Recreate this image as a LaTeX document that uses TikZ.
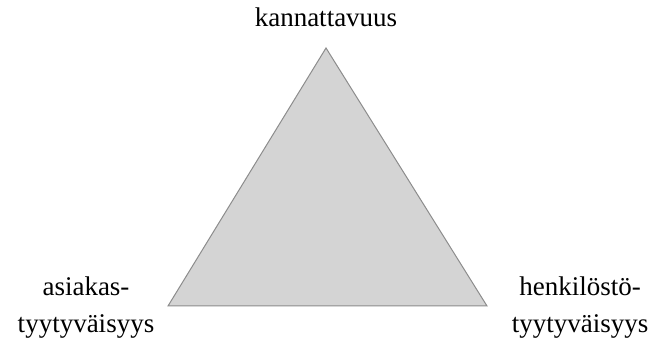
\documentclass[tikz,border=0pt]{standalone}
\usepackage{fontspec}
\setmainfont{Liberation Serif}
\begin{document}
\begin{tikzpicture}[x=1pt,y=-1pt,
  lbl/.style={align=center,inner sep=0pt,font=\fontsize{27}{37}\selectfont},
  tri/.style={fill=black!17,draw=black!45,line width=1pt,line join=miter}]
\useasboundingbox (0,0) rectangle (661,344);
\coordinate (apex) at (326,48);
\coordinate (bl) at (168,306);
\coordinate (br) at (487,306);
\draw[tri] (apex) -- (bl) -- (br) -- cycle;
\node[lbl] (top) at (326,17) {kannattavuus};
\node[lbl] (left) at (86,308) {asiakas-\\tyytyväisyys};
\node[lbl] (right) at (580,308) {henkilöstö-\\tyytyväisyys};
\end{tikzpicture}
\end{document}
